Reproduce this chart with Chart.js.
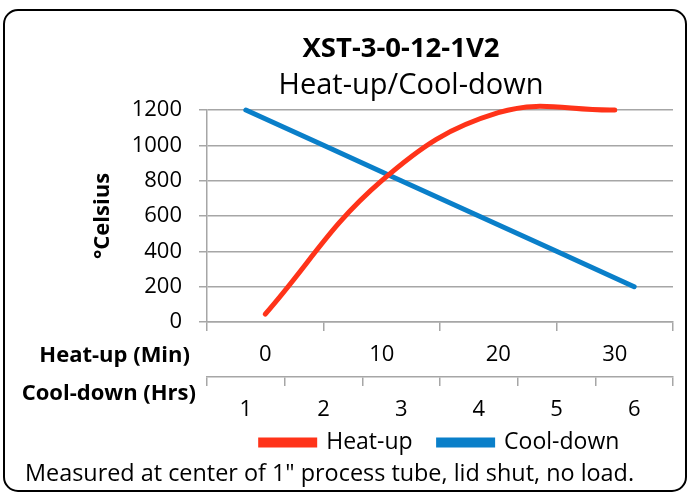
<!DOCTYPE html>
<html>
<head>
<meta charset="utf-8">
<script src="https://cdn.jsdelivr.net/npm/chart.js@4/dist/chart.umd.min.js"></script>
<style>
  html, body { margin: 0; padding: 0; background: #fff; }
  #wrap { width: 689px; height: 495px; }
</style>
</head>
<body>
<div id="wrap"><canvas id="chart" width="689" height="495"></canvas></div>
<script>
// values
const heatMinutes = ["0", "10", "20", "30"];
const heatUp = [45, 800, 1185, 1200];
const coolHours = ["1", "2", "3", "4", "5", "6"];
const coolDown = [1200, 1000, 800, 600, 400, 200];
const tempMin = 0, tempMax = 1200, tempStep = 200;

const FONT = "'Open Sans', sans-serif";
const GRID = "#a6a6a6";
const RED = "#ff3319";
const BLUE = "#0a7fc9";

// extra texts: frame, titles, side labels of the two x axes, footnote
const decorations = {
    id: "decorations",
    afterLayout(chart) {
        // pull the legend up against the second axis (its padding also spaces the items)
        chart.legend.top -= 19;
        chart.legend.bottom -= 19;
    },
    beforeDraw(chart) {
        const ctx = chart.ctx;
        ctx.save();
        ctx.fillStyle = "#fff";
        ctx.fillRect(0, 0, chart.width, chart.height);
        ctx.strokeStyle = "#000";
        ctx.lineWidth = 2;
        ctx.beginPath();
        ctx.roundRect(4, 10, 682, 481, 14);
        ctx.stroke();
        ctx.restore();
    },
    afterDraw(chart) {
        const ctx = chart.ctx;
        const xh = chart.scales.xh, xc = chart.scales.xc;
        ctx.save();
        ctx.fillStyle = "#000";
        ctx.textBaseline = "middle";

        ctx.textAlign = "center";
        ctx.font = "bold 27.5px " + FONT;
        ctx.fillText("XST-3-0-12-1V2", 401, 49);
        ctx.font = "29px " + FONT;
        ctx.fillText("Heat-up/Cool-down", 411, 86);

        ctx.textAlign = "right";
        ctx.font = "bold 22px " + FONT;
        ctx.fillText("Heat-up (Min)", 190, xh.top + 34);
        ctx.fillText("Cool-down (Hrs)", 196, xc.top + 17);

        ctx.textAlign = "left";
        ctx.font = "23.4px " + FONT;
        ctx.fillText("Measured at center of 1\" process tube, lid shut, no load.", 25, 474);
        ctx.restore();
    }
};

const ctx = document.getElementById("chart").getContext("2d");

new Chart(ctx, {
    type: "line",
    data: {
        datasets: [
            {
                label: "Heat-up",
                data: heatUp,
                xAxisID: "xh",
                borderColor: RED,
                backgroundColor: RED,
                borderWidth: 5,
                borderCapStyle: "round",
                pointRadius: 0,
                tension: 0.4,
                capBezierPoints: false,
                clip: 12
            },
            {
                label: "Cool-down",
                data: coolDown,
                xAxisID: "xc",
                borderColor: BLUE,
                backgroundColor: BLUE,
                borderWidth: 5,
                borderCapStyle: "round",
                pointRadius: 0,
                tension: 0,
                clip: 12
            }
        ]
    },
    options: {
        animation: false,
        responsive: false,
        layout: { padding: { top: 110, left: 85, right: 16, bottom: 12 } },
        plugins: {
            title: { display: false },
            tooltip: { enabled: false },
            legend: {
                position: "bottom",
                fullSize: false,
                labels: {
                    boxWidth: 54,
                    boxHeight: 5,
                    padding: 26,
                    color: "#000",
                    font: { family: FONT, size: 23 }
                }
            }
        },
        scales: {
            y: {
                min: tempMin,
                max: tempMax,
                ticks: {
                    stepSize: tempStep,
                    padding: 17,
                    color: "#000",
                    font: { family: FONT, size: 22 },
                    callback: (v) => String(v)
                },
                grid: { color: GRID, lineWidth: 1.5, tickLength: 8 },
                border: { color: GRID, width: 1.5 },
                title: {
                    display: true,
                    text: "°Celsius",
                    color: "#000",
                    padding: { top: 5, bottom: 0 },
                    font: { family: FONT, size: 22, weight: "bold" }
                },
                afterFit(scale) { scale.width = 122; }
            },
            xh: {
                type: "category",
                position: "bottom",
                labels: heatMinutes,
                offset: true,
                weight: 1,
                ticks: {
                    padding: 11,
                    color: "#000",
                    font: { family: FONT, size: 22 }
                },
                grid: { offset: true, drawOnChartArea: false, color: GRID, lineWidth: 1.5, tickLength: 9 },
                border: { color: GRID, width: 1.5 },
                afterFit(scale) { scale.height = 55; }
            },
            xc: {
                type: "category",
                position: "bottom",
                labels: coolHours,
                offset: true,
                weight: 2,
                ticks: {
                    padding: 11,
                    color: "#000",
                    font: { family: FONT, size: 22 }
                },
                grid: { offset: true, drawOnChartArea: false, color: GRID, lineWidth: 1.5, tickLength: 9 },
                border: { color: GRID, width: 1.5 },
                afterFit(scale) { scale.height = 47; }
            }
        }
    },
    plugins: [decorations]
});
</script>
</body>
</html>
